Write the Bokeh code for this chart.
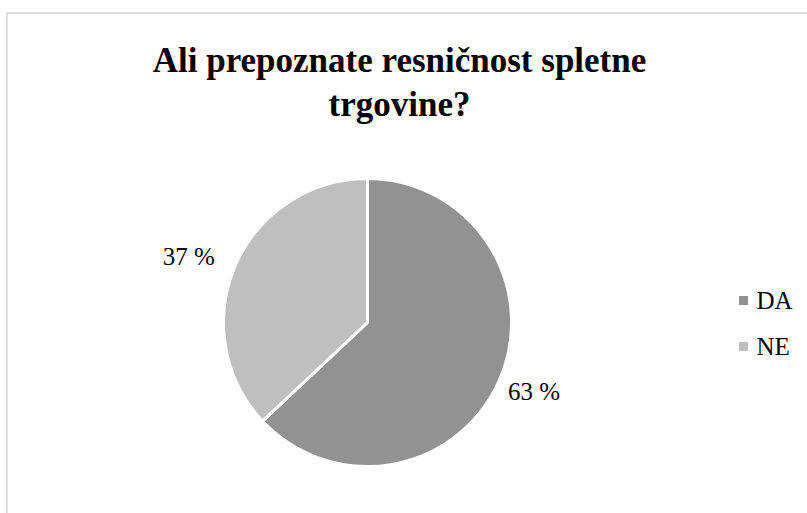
import math
from bokeh.plotting import figure
from bokeh.models import ColumnDataSource
from bokeh.core.properties import value
from bokeh.embed import file_html
from bokeh.resources import INLINE

# Data
categories = ["DA", "NE"]
shares = [63, 37]
colors = ["#929292", "#bfbfbf"]
title_lines = ["Ali prepoznate resničnost spletne", "trgovine?"]

W, H = 807, 513
p = figure(width=W, height=H, x_range=(0, W), y_range=(0, H),
           output_backend="svg", toolbar_location=None, min_border=0)
p.axis.visible = False
p.grid.visible = False
p.outline_line_color = None
p.background_fill_color = "white"
p.border_fill_color = "white"

def Y(y):
    return H - y

# chart frame (cropped on the right and bottom)
p.quad(left=[6.5], right=[W + 20], bottom=[-20], top=[Y(12.5)],
       fill_color=None, line_color="#d4d4d4", line_width=1.5)

# pie
cx, cy, r = 367, Y(322), 144
total = float(sum(shares))
starts, ends, mids = [], [], []
a = math.pi / 2
for v in shares:
    sweep = v / total * 2 * math.pi
    starts.append(a)
    ends.append(a - sweep)
    mids.append(a - sweep / 2)
    a -= sweep
src = ColumnDataSource(dict(start=starts, end=ends, color=colors, cat=categories))
p.wedge(x=cx, y=cy, radius=r, start_angle="start", end_angle="end",
        direction="clock", fill_color="color", line_color="white",
        line_width=3, source=src)

# data labels (outside end, with small nudges)
label_r = [1.26, 1.30]
nudge = [(0, 3), (-7, -8)]
lx = [cx + label_r[i] * r * math.cos(m) + nudge[i][0] for i, m in enumerate(mids)]
ly = [cy + label_r[i] * r * math.sin(m) + nudge[i][1] for i, m in enumerate(mids)]
lt = [f"{v} %" for v in shares]
p.text(x=lx, y=ly, text=lt, text_font=value("Liberation Serif"),
       text_font_size="25px", text_color="#000000",
       text_align="center", text_baseline="middle")

# title
p.text(x=[399, 399], y=[Y(60), Y(104)], text=title_lines,
       text_font=value("Liberation Serif"), text_font_style="bold",
       text_font_size="35px", text_color="#000000",
       text_align="center", text_baseline="alphabetic")

# legend
leg_y = [Y(300), Y(346)]
p.scatter(x=[743, 743], y=leg_y, marker="square", size=9,
          fill_color=colors, line_color=None)
p.text(x=[756, 756], y=leg_y, text=categories,
       text_font=value("Liberation Serif"), text_font_size="25px",
       text_color="#000000", text_align="left", text_baseline="middle")

open("out.html", "w").write(file_html(p, INLINE))
